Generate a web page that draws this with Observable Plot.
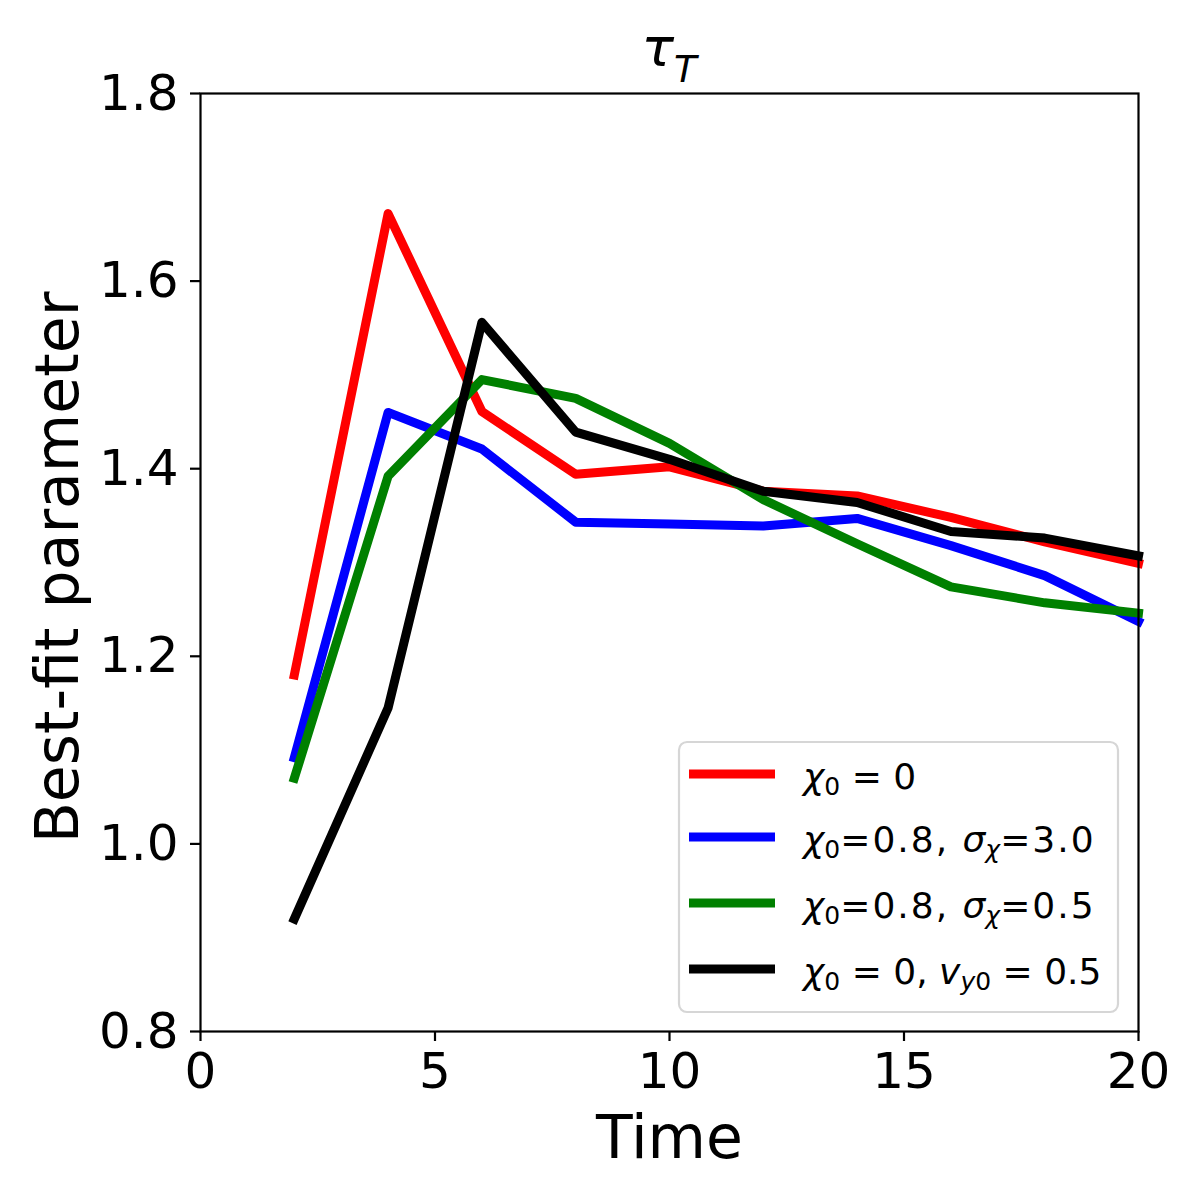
<!DOCTYPE html>
<html>
<head>
<meta charset="utf-8">
<script src="https://cdn.jsdelivr.net/npm/d3@7"></script>
<script src="https://cdn.jsdelivr.net/npm/@observablehq/plot@0.6"></script>
<style>
  body { margin: 0; background: #ffffff; }
  #chart svg { display: block; }
</style>
</head>
<body>
<div id="chart"></div>
<script>
// ---- data ----
const time = [2, 4, 6, 8, 10, 12, 14, 16, 18, 20];
const seriesKeys = ["chi0=0", "chi0=0.8,sigma=3.0", "chi0=0.8,sigma=0.5", "chi0=0,vy0=0.5"];
const seriesColors = ["#ff0000", "#0000ff", "#008000", "#000000"];
const tauRed   = [1.180, 1.672, 1.461, 1.394, 1.402, 1.376, 1.371, 1.348, 1.322, 1.299];
const tauBlue  = [1.092, 1.460, 1.421, 1.343, 1.341, 1.339, 1.347, 1.318, 1.286, 1.237];
const tauGreen = [1.070, 1.392, 1.495, 1.475, 1.427, 1.367, 1.320, 1.274, 1.257, 1.246];
const tauBlack = [0.920, 1.145, 1.556, 1.439, 1.410, 1.376, 1.364, 1.333, 1.326, 1.307];
const xTicks = [0, 5, 10, 15, 20];
const yTicks = [0.8, 1.0, 1.2, 1.4, 1.6, 1.8];
const xLabel = "Time";
const yLabel = "Best-fit parameter";

const allSeries = [tauRed, tauBlue, tauGreen, tauBlack];
const rowsFor = (vals, i) => vals.map((v, j) => ({series: seriesKeys[i], t: time[j], v}));

const FONT = "DejaVu Sans, Liberation Sans, sans-serif";
const LW = 9;

const svg = Plot.plot({
  width: 1200,
  height: 1200,
  marginTop: 93,
  marginRight: 62,
  marginBottom: 169,
  marginLeft: 200,
  style: {fontFamily: FONT, background: "#ffffff", color: "#000000"},
  x: {domain: [0, 20]},
  y: {domain: [0.8, 1.8]},
  color: {domain: seriesKeys, range: seriesColors},
  marks: [
    ...allSeries.map((vals, i) => Plot.line(rowsFor(vals, i), {
      x: "t", y: "v", stroke: "series",
      strokeWidth: LW, strokeLinejoin: "round", strokeLinecap: "square"
    })),
    Plot.frame({stroke: "#000000", strokeWidth: 2.2}),
    Plot.axisX({ticks: xTicks, tickSize: 10, tickPadding: 11, strokeWidth: 2.2,
      fontSize: 50, tickFormat: d3.format("d"), label: null}),
    Plot.axisY({ticks: yTicks, tickSize: 10, tickPadding: 12, strokeWidth: 2.2,
      fontSize: 50, tickFormat: d3.format(".1f"), label: null}),
    Plot.text([xLabel], {text: d => d, frameAnchor: "bottom", lineAnchor: "bottom",
      textAnchor: "middle", dy: 126, fontSize: 60, fill: "#000000"}),
    Plot.text([yLabel], {text: d => d, frameAnchor: "left", lineAnchor: "bottom",
      textAnchor: "middle", rotate: -90, dx: -123, dy: 5, fontSize: 60, fill: "#000000"})
  ]
});

document.getElementById("chart").appendChild(svg);

const s = d3.select(svg);

// ---- title tau_T ----
const title = s.append("text")
  .attr("x", 669).attr("y", 66)
  .attr("text-anchor", "middle")
  .attr("font-family", FONT)
  .attr("font-size", 54)
  .attr("fill", "#000000");
title.append("tspan").attr("font-style", "italic").text("τ");
title.append("tspan").attr("font-style", "italic").attr("font-size", 37).attr("dy", 16).text("T");

// ---- legend ----
const legendEntries = [
  [{t: "χ", it: true}, {t: "0", sub: true}, {t: " = 0"}],
  [{t: "χ", it: true}, {t: "0", sub: true}, {t: "=0.8, ", ls: 2}, {t: "σ", it: true}, {t: "χ", it: true, sub: true}, {t: "=3.0", ls: 2}],
  [{t: "χ", it: true}, {t: "0", sub: true}, {t: "=0.8, ", ls: 2}, {t: "σ", it: true}, {t: "χ", it: true, sub: true}, {t: "=0.5", ls: 2}],
  [{t: "χ", it: true}, {t: "0", sub: true}, {t: " = 0, "}, {t: "v", it: true}, {t: "y", it: true, sub: true}, {t: "0", sub: true}, {t: " = 0.5"}]
];
const lg = s.append("g");
lg.append("rect")
  .attr("x", 679).attr("y", 742).attr("width", 439).attr("height", 270)
  .attr("rx", 8).attr("ry", 8)
  .attr("fill", "#ffffff").attr("fill-opacity", 0.8)
  .attr("stroke", "#d6d6d6").attr("stroke-width", 2.2);
const rowY = [774, 837, 903, 969];
legendEntries.forEach((parts, i) => {
  const y = rowY[i];
  lg.append("line")
    .attr("x1", 689).attr("x2", 775).attr("y1", y).attr("y2", y)
    .attr("stroke", seriesColors[i]).attr("stroke-width", LW);
  const txt = lg.append("text")
    .attr("x", 803).attr("y", y + 15)
    .attr("text-anchor", "start")
    .attr("font-family", FONT).attr("font-size", 36).attr("fill", "#000000");
  let shifted = false;
  parts.forEach(p => {
    const ts = txt.append("tspan").text(p.t);
    if (p.it) ts.attr("font-style", "italic");
    if (p.ls) ts.attr("letter-spacing", p.ls);
    if (p.sub) {
      ts.attr("font-size", 25);
      if (!shifted) { ts.attr("dy", 6); shifted = true; }
    } else if (shifted) {
      ts.attr("dy", -6); shifted = false;
    }
  });
});
</script>
</body>
</html>
